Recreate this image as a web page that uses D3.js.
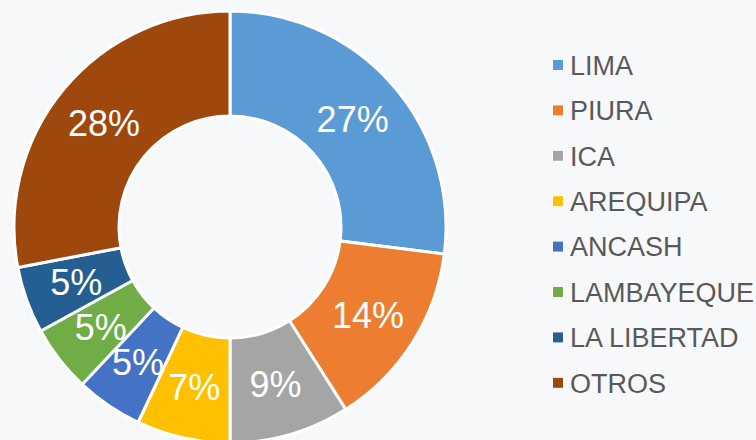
<!DOCTYPE html>
<html lang="es">
<head>
  <meta charset="UTF-8">
  <title>Distribución por región</title>
  <script src="https://d3js.org/d3.v7.min.js"></script>
  <style>
    body {
      margin: 0;
      background: #f7f8fa;
      font-family: Arial, "Liberation Sans", sans-serif;
    }
    svg {
      display: block;
      background: #f7f8fa;
    }
  </style>
</head>
<body>
  <svg id="chart" width="756" height="440"></svg>
  <script>
    // Chart data
    const regions = ["LIMA", "PIURA", "ICA", "AREQUIPA", "ANCASH", "LAMBAYEQUE", "LA LIBERTAD", "OTROS"];
    const shares = [27, 14, 9, 7, 5, 5, 5, 28];
    const colors = ["#5b9bd5", "#ed7d31", "#a5a5a5", "#ffc000", "#4472c4", "#70ad47", "#255e91", "#9e480e"];

    const data = regions.map((r, i) => ({ region: r, value: shares[i] }));

    const svg = d3.select("#chart");
    const cx = 230, cy = 227;
    const outerR = 216, innerR = 111;

    const color = d3.scaleOrdinal().domain(regions).range(colors);

    const pie = d3.pie()
      .value(d => d.value)
      .sort(null);

    const arc = d3.arc()
      .innerRadius(innerR)
      .outerRadius(outerR);

    const g = svg.append("g")
      .attr("transform", `translate(${cx}, ${cy})`);

    const slices = g.selectAll("g.slice")
      .data(pie(data))
      .join("g")
      .attr("class", "slice");

    slices.append("path")
      .attr("d", arc)
      .attr("fill", d => color(d.data.region))
      .attr("stroke", "#ffffff")
      .attr("stroke-width", 3)
      .attr("stroke-linejoin", "miter");

    slices.append("text")
      .attr("transform", d => `translate(${arc.centroid(d)})`)
      .attr("text-anchor", "middle")
      .attr("dy", "0.36em")
      .attr("fill", "#ffffff")
      .style("font-size", "36px")
      .text(d => d.data.value + "%");

    // Legend
    const legend = svg.append("g")
      .attr("transform", "translate(553, 65)");

    const rowStep = 45.4;
    regions.forEach((r, i) => {
      const item = legend.append("g")
        .attr("transform", `translate(0, ${i * rowStep})`);
      item.append("rect")
        .attr("x", -1)
        .attr("y", -6)
        .attr("width", 12)
        .attr("height", 12)
        .attr("fill", "#ffffff");
      item.append("rect")
        .attr("x", 0)
        .attr("y", -5)
        .attr("width", 10)
        .attr("height", 10)
        .attr("fill", color(r));
      item.append("text")
        .attr("x", 17)
        .attr("y", 0)
        .attr("dy", "0.36em")
        .attr("fill", "#595959")
        .style("font-size", "27px")
        .text(r);
    });
  </script>
</body>
</html>
